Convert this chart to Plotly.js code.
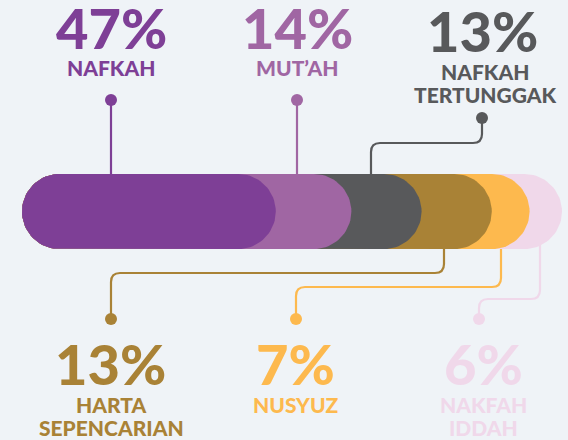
<!DOCTYPE html>
<html>
<head>
<meta charset="utf-8">
<script src="https://cdn.plot.ly/plotly-3.0.1.min.js"></script>
<style>
  html, body { margin: 0; padding: 0; background: #eff3f7; }
  #chart { width: 568px; height: 440px; }
</style>
</head>
<body>
<div id="chart"></div>
<script>
// ---- data ----
const categories = ["NAFKAH", "MUT’AH", "NAFKAH<br>TERTUNGGAK", "HARTA<br>SEPENCARIAN", "NUSYUZ", "NAKFAH<br>IDDAH"];
const values = [47, 14, 13, 13, 7, 6];
const colors = ["#7e3f96", "#a066a3", "#58595b", "#a98236", "#fdb94e", "#f0d8ea"];

// ---- layout helpers (pixel geometry of the figure) ----
const W = 568, H = 440;
const X0 = 22, PX_PER_UNIT = 5.4, YC = 211.5;   // bar left edge, scale, bar centre
const ux = px => (px - X0) / PX_PER_UNIT;
const uy = py => (YC - py) / PX_PER_UNIT;
const R = 37.5 / PX_PER_UNIT;                   // pill radius in data units

// callout geometry, pixels: anchor on bar, elbow level, dot position, label position
const callouts = [
  {ax: 111, dot: [111, 100], side: "top",  pct: [111, 27],  lab: [111, 67.5]},
  {ax: 297, dot: [297, 100], side: "top",  pct: [297, 27],  lab: [297, 67.5]},
  {ax: 371, elbow: 143, dot: [482, 118], side: "top", pct: [482, 30], lab: [485, 71.5]},
  {ax: 444, elbow: 273, dot: [111, 319], side: "bot", pct: [110, 363], lab: [111, 404.5]},
  {ax: 501, elbow: 287, dot: [296, 319], side: "bot", pct: [295, 363], lab: [296, 404.5]},
  {ax: 540, elbow: 299, dot: [479, 319], side: "bot", pct: [483, 363], lab: [483, 404.5]}
];
const LINE_GAP = 23;

// cumulative ends
const ends = [];
values.reduce((acc, v, i) => { ends[i] = acc + v; return acc + v; }, 0);

function pill(end) {
  const xs = [], ys = [], n = 40;
  for (let k = 0; k <= n; k++) {           // right cap
    const a = Math.PI / 2 - Math.PI * k / n;
    xs.push(end - R + R * Math.cos(a)); ys.push(R * Math.sin(a));
  }
  for (let k = 0; k <= n; k++) {           // left cap
    const a = -Math.PI / 2 - Math.PI * k / n;
    xs.push(R + R * Math.cos(a)); ys.push(R * Math.sin(a));
  }
  xs.push(xs[0]); ys.push(ys[0]);
  return {xs, ys};
}

const traces = [];
for (let i = values.length - 1; i >= 0; i--) {
  const p = pill(ends[i]);
  traces.push({
    type: "scatter", mode: "lines", x: p.xs, y: p.ys,
    fill: "toself", fillcolor: colors[i], line: {width: 0, color: colors[i]},
    hoverinfo: "skip", showlegend: false, name: categories[i]
  });
}

// dots
traces.push({
  type: "scatter", mode: "markers",
  x: callouts.map(c => ux(c.dot[0])), y: callouts.map(c => uy(c.dot[1])),
  marker: {size: 12, color: colors}, hoverinfo: "skip", showlegend: false
});

// connector paths
const P = (x, y) => ux(x).toFixed(3) + "," + uy(y).toFixed(3);
const cr = 9;
const shapes = callouts.map((c, i) => {
  let d;
  const [dx, dy] = c.dot;
  if (c.elbow === undefined) {
    d = "M" + P(dx, dy) + " L" + P(dx, YC);
  } else {
    const e = c.elbow;
    const vs = c.side === "top" ? 1 : -1;       // direction from elbow toward bar
    const hs = dx > c.ax ? 1 : -1;               // direction from anchor toward dot
    d = "M" + P(c.ax, YC) +
        " L" + P(c.ax, e + vs * cr) +
        " Q" + P(c.ax, e) + " " + P(c.ax + hs * cr, e) +
        " L" + P(dx - hs * cr, e) +
        " Q" + P(dx, e) + " " + P(dx, e - vs * cr) +
        " L" + P(dx, dy);
  }
  return {type: "path", path: d, layer: "below", line: {color: colors[i], width: 2.2}};
});

// text
const FONT = "Lato, 'Open Sans', sans-serif";
const annotations = [];
callouts.forEach((c, i) => {
  annotations.push({
    x: ux(c.pct[0]), y: uy(c.pct[1]), xref: "x", yref: "y",
    text: values[i] + "%", showarrow: false, xanchor: "center", yanchor: "middle",
    font: {family: FONT, size: 56, color: colors[i], weight: 900}
  });
  categories[i].split("<br>").forEach((line, j) => {
    annotations.push({
      x: ux(c.lab[0]), y: uy(c.lab[1] + j * LINE_GAP), xref: "x", yref: "y",
      text: line, showarrow: false, xanchor: "center", yanchor: "middle",
      font: {family: FONT, size: 21, color: colors[i], weight: 900}
    });
  });
});

const ax = {visible: false, showgrid: false, zeroline: false, fixedrange: true};
const layout = {
  width: W, height: H,
  margin: {l: 0, r: 0, t: 0, b: 0, pad: 0},
  paper_bgcolor: "#eff3f7", plot_bgcolor: "#eff3f7",
  xaxis: Object.assign({range: [ux(0), ux(W)]}, ax),
  yaxis: Object.assign({range: [uy(H), uy(0)]}, ax),
  shapes, annotations, showlegend: false
};

Plotly.newPlot("chart", traces, layout, {staticPlot: true, displayModeBar: false});
</script>
</body>
</html>
